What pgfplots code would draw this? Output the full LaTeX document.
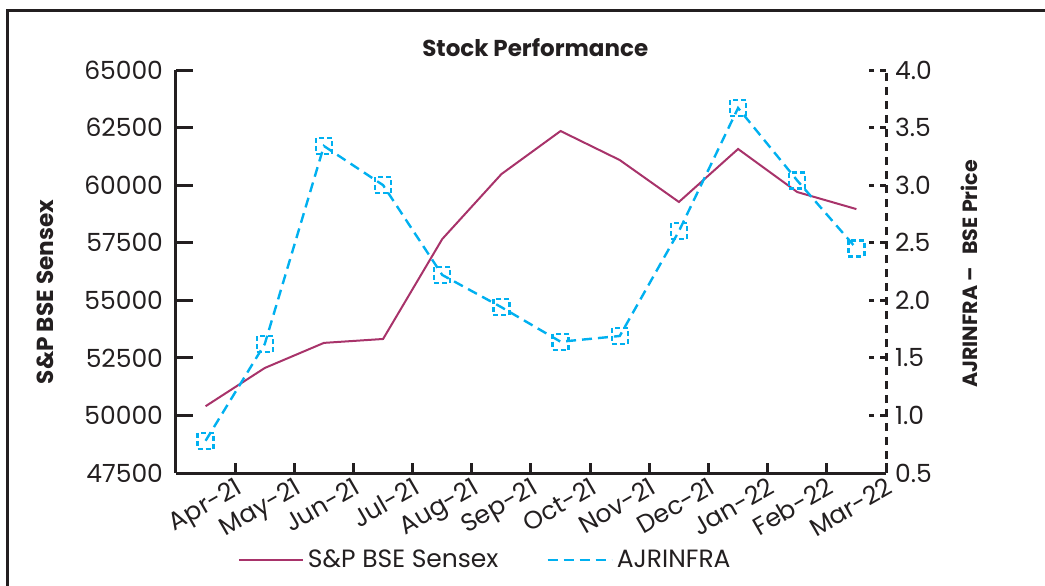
\documentclass[border=0pt]{standalone}
\usepackage{pgfplots}
\pgfplotsset{compat=1.18}
\usepackage{fontspec}
\setmainfont{Poppins}
\definecolor{sensex}{HTML}{A8336A}
\definecolor{ajr}{HTML}{00B0F0}
\definecolor{axc}{HTML}{231F20}
\begin{document}
\begin{tikzpicture}
\pgfplotsset{
  common/.style={
    scale only axis,
    width=355pt, height=201.5pt,
    xmin=-0.5, xmax=11.5,
    /pgf/number format/assume math mode=true,
    ticklabel style={font=\fontsize{12.5}{14}\selectfont, text=axc},
    axis line style={axc, line width=1.5pt},
    major tick length=8.5pt,
    tick align=inside,
    clip=false,
  }
}
\begin{axis}[common, name=ax,
  axis x line*=bottom, axis y line*=left,
  ymin=47500, ymax=65000,
  ytick={47500,50000,52500,55000,57500,60000,62500,65000},
  scaled y ticks=false,
  /pgf/number format/1000 sep={},
  yticklabel style={xshift=-3pt},
  ytick style={axc, line width=1.5pt},
  xtick={0.5,1.5,...,11.5},
  xticklabels={Apr-21,May-21,Jun-21,Jul-21,Aug-21,Sep-21,Oct-21,Nov-21,Dec-21,Jan-22,Feb-22,Mar-22},
  xticklabel style={rotate=30, anchor=north east, inner sep=1pt, yshift=0pt},
  xtick style={axc, line width=1.5pt, /pgfplots/major tick length=5pt},
  ylabel={\bfseries S\&P BSE Sensex},
  ylabel style={font=\fontsize{11.6}{13}\selectfont, text=axc, at={(axis description cs:-0.1845,0.449)}, anchor=center, rotate=0},
  title={\bfseries Stock Performance},
  title style={font=\fontsize{11.5}{13}\selectfont, text=axc, at={(axis description cs:0.506,1.027)}, anchor=center},
]
\addplot[sensex, line width=1pt] coordinates {
(0,50400) (1,52060) (2,53150) (3,53320) (4,57660) (5,60480)
(6,62350) (7,61090) (8,59270) (9,61570) (10,59700) (11,58960)
};
\end{axis}
\begin{axis}[common,
  axis x line=none, axis y line*=right,
  ymin=0.5, ymax=4,
  ytick={0.5,1,...,4},
  /pgf/number format/fixed, /pgf/number format/fixed zerofill, /pgf/number format/precision=1,
  yticklabel style={xshift=1pt},
  y axis line style={dash pattern=on 4pt off 3pt},
  ytick style={axc, line width=1.5pt, dash pattern=on 3pt off 3pt},
  ylabel={\bfseries AJRINFRA –\hspace{0.6em}BSE Price},
  ylabel style={font=\fontsize{10.3}{12}\selectfont, text=axc, at={(axis description cs:1.118,0.494)}, anchor=center, rotate=0},
  legend columns=2,
  legend style={at={(axis description cs:0.437,-0.216)}, anchor=center, draw=none, fill=none,
    font=\fontsize{12.5}{14}\selectfont, text=axc,
    /tikz/every even column/.append style={column sep=22pt}},
  legend image code/.code={\draw[#1] (0pt,0pt) -- (32pt,0pt);},
]
\addlegendimage{sensex, line width=1pt}
\addlegendentry{S\&P BSE Sensex}
\addplot[ajr, line width=1.2pt, dash pattern=on 5pt off 3pt, mark=square, mark size=4pt,
  mark options={solid, dash pattern=on 2.5pt off 1.5pt, line width=1.2pt}] coordinates {
(0,0.78) (1,1.62) (2,3.34) (3,3.00) (4,2.22) (5,1.94)
(6,1.64) (7,1.69) (8,2.60) (9,3.67) (10,3.04) (11,2.45)
};
\addlegendentry{AJRINFRA}
\end{axis}
\draw[axc, line width=1.5pt] (ax.south west) ++(-84pt,-59pt) -- ++(0pt,290pt) -- ++(522pt,0pt);
\pgfresetboundingbox
\path[use as bounding box] (ax.south west) ++(-88pt,-56pt) rectangle ++(522.5pt,292.5pt);
\end{tikzpicture}
\end{document}
